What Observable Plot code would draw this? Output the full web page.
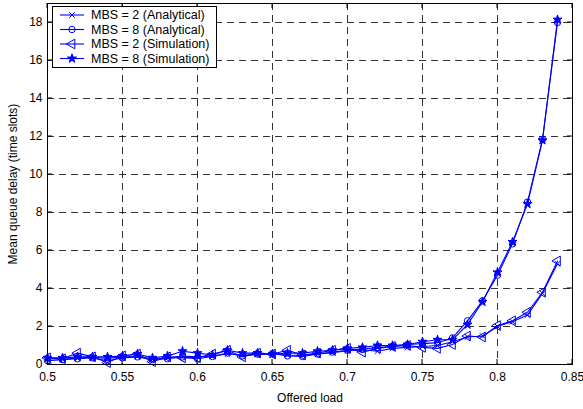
<!DOCTYPE html>
<html><head><meta charset="utf-8">
<script src="https://cdn.jsdelivr.net/npm/d3@7"></script>
<script src="https://cdn.jsdelivr.net/npm/@observablehq/plot@0.6"></script>
<style>
body{margin:0;background:#fff}
svg{font-family:"Liberation Sans",Arial,Helvetica,sans-serif}
#chart svg g[aria-label$="axis"] text{font-size:12px}
</style>
</head><body><div id="chart"></div>
<script>
const load = [0.50,0.51,0.52,0.53,0.54,0.55,0.56,0.57,0.58,0.59,0.60,0.61,0.62,0.63,0.64,0.65,0.66,0.67,0.68,0.69,0.70,0.71,0.72,0.73,0.74,0.75,0.76,0.77,0.78,0.79,0.80,0.81,0.82,0.83,0.84];
const mbs2Analytical = [0.30,0.28,0.35,0.38,0.32,0.40,0.42,0.30,0.35,0.45,0.40,0.45,0.55,0.50,0.52,0.55,0.50,0.48,0.55,0.62,0.72,0.78,0.70,0.85,0.90,0.95,1.00,1.20,1.45,1.50,2.00,2.25,2.60,3.75,5.30];
const mbs8Analytical = [0.20,0.25,0.30,0.35,0.20,0.35,0.40,0.25,0.30,0.40,0.30,0.42,0.60,0.45,0.55,0.58,0.45,0.42,0.55,0.65,0.75,0.80,0.90,0.95,1.05,1.10,1.15,1.40,2.30,3.35,4.70,6.35,8.55,11.85,18.00];
const mbs2Simulation = [0.35,0.30,0.60,0.40,0.10,0.45,0.55,0.15,0.40,0.35,0.35,0.55,0.75,0.40,0.60,0.55,0.75,0.50,0.60,0.75,0.85,0.65,0.85,0.95,1.00,0.90,0.85,1.05,1.50,1.45,2.05,2.30,2.75,3.80,5.45];
const mbs8Simulation = [0.35,0.35,0.40,0.40,0.40,0.45,0.55,0.35,0.45,0.70,0.60,0.50,0.75,0.60,0.60,0.55,0.60,0.60,0.70,0.75,0.85,0.90,1.00,1.00,1.05,1.20,1.30,1.30,2.10,3.30,4.85,6.45,8.45,11.80,18.15];
const seriesNames = ["MBS = 2 (Analytical)","MBS = 8 (Analytical)","MBS = 2 (Simulation)","MBS = 8 (Simulation)"];
const xTicks = [0.5,0.55,0.6,0.65,0.7,0.75,0.8,0.85];
const yTicks = [0,2,4,6,8,10,12,14,16,18];
const xLabel = "Offered load";
const yLabel = "Mean queue delay (time slots)";

const blue = "#0000ff";
const seriesValues = [mbs2Analytical, mbs8Analytical, mbs2Simulation, mbs8Simulation];
const symbols = ["times","circle","triangle","star"];
const rotates = [0,0,-90,0];
const fills = ["none","none","none",blue];
const radii = [2.6,3.2,3.6,2.8];

const data = seriesNames.flatMap((name, k) => seriesValues[k].map((v, i) => ({x: load[i], y: v, name})));

const dotMarks = seriesNames.map((name, k) => Plot.dot(data.filter(d => d.name === name), {
  x: "x", y: "y", symbol: () => symbols[k], rotate: rotates[k], r: radii[k],
  stroke: blue, fill: fills[k], strokeWidth: 1
}));

const plot = Plot.plot({
  width: 583, height: 409,
  marginLeft: 47, marginRight: 11, marginTop: 3, marginBottom: 45,
  style: {fontSize: "12px", fontFamily: "'Liberation Sans', Arial, Helvetica, sans-serif", background: "#fff", color: "#000"},
  x: {domain: [0.5, 0.85]},
  y: {domain: [0, 19]},
  symbol: {type: "identity"},
  marks: [
    Plot.ruleX(xTicks, {stroke: "#000", strokeOpacity: 0.8, strokeDasharray: "7,5"}),
    Plot.ruleY(yTicks, {stroke: "#000", strokeOpacity: 0.8, strokeDasharray: "7,5"}),
    Plot.line(data, {x: "x", y: "y", z: "name", stroke: blue, strokeWidth: 1.1}),
    ...dotMarks,
    Plot.axisX({ticks: xTicks, tickSize: 0, tickPadding: 8, fontSize: 12, tickFormat: d => String(d), label: xLabel, labelAnchor: "center", labelArrow: "none", labelOffset: 37}),
    Plot.axisY({ticks: yTicks, tickSize: 0, tickPadding: 5, fontSize: 12, tickFormat: d => String(d), label: yLabel, labelAnchor: "center", labelArrow: "none", labelOffset: 39}),
    Plot.frame({stroke: "#000", strokeWidth: 1})
  ]
});

document.getElementById("chart").appendChild(plot);

// inward ticks (MATLAB style box)
const sx = plot.scale("x"), sy = plot.scale("y");
const svg = d3.select(plot);
const [x0, x1] = sx.range, [y0, y1] = sy.range;
const tg = svg.append("g").attr("stroke", "#000").attr("stroke-width", 1);
xTicks.forEach(v => {
  const px = sx.apply(v);
  tg.append("line").attr("x1", px).attr("x2", px).attr("y1", y0).attr("y2", y0 - 5);
  tg.append("line").attr("x1", px).attr("x2", px).attr("y1", y1).attr("y2", y1 + 5);
});
yTicks.forEach(v => {
  const py = sy.apply(v);
  tg.append("line").attr("y1", py).attr("y2", py).attr("x1", x0).attr("x2", x0 + 5);
  tg.append("line").attr("y1", py).attr("y2", py).attr("x1", x1).attr("x2", x1 - 5);
});

// legend
const lg = svg.append("g").attr("text-anchor", "start");
lg.append("rect").attr("x", 52.5).attr("y", 6.5).attr("width", 164).attr("height", 61)
  .attr("fill", "#fff").attr("stroke", "#000").attr("stroke-width", 1);
const d3sym = [d3.symbolTimes, d3.symbolCircle, d3.symbolTriangle, d3.symbolStar];
seriesNames.forEach((name, k) => {
  const yy = 15 + k * 14.5;
  lg.append("line").attr("x1", 60).attr("x2", 84).attr("y1", yy).attr("y2", yy).attr("stroke", blue).attr("stroke-width", 1.1);
  lg.append("path").attr("d", d3.symbol(d3sym[k], Math.PI * radii[k] * radii[k])())
    .attr("transform", `translate(72,${yy}) rotate(${rotates[k]})`)
    .attr("stroke", blue).attr("fill", fills[k]).attr("stroke-width", 1);
  lg.append("text").attr("x", 91).attr("y", yy).attr("dy", "0.35em").attr("text-anchor", "start")
    .attr("font-size", 12.5).attr("fill", "#000").text(name);
});
</script>
</body></html>
